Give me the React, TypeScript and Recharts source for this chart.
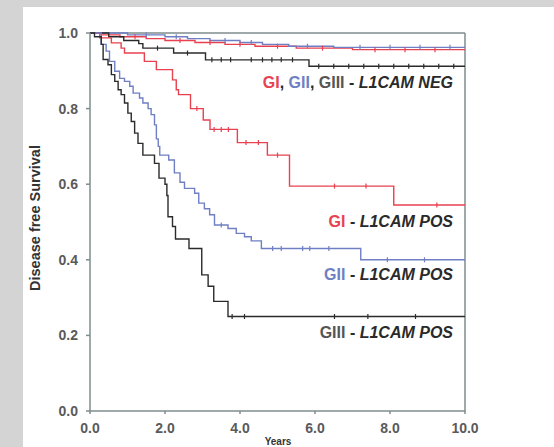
import React from "react";
import {
  ComposedChart,
  Line,
  Scatter,
  XAxis,
  YAxis,
  ReferenceLine,
} from "recharts";

// ---- Data (years, disease free survival) ----
const giPosT = [0, 0.26, 0.57, 0.83, 0.92, 1.45, 1.77, 2.2, 2.3, 2.36, 2.68, 3.02, 3.2, 3.93, 4.73, 5.32, 8.1, 10];
const giPosS = [1.0, 0.987, 0.974, 0.96, 0.947, 0.925, 0.903, 0.876, 0.85, 0.837, 0.8, 0.77, 0.745, 0.71, 0.677, 0.595, 0.545, 0.545];
const giPosCensT = [2.85, 3.31, 3.5, 3.69, 4.16, 4.49, 5.0, 6.52, 7.36, 9.25];

const giiPosT = [0, 0.3, 0.43, 0.52, 0.66, 0.79, 0.92, 1.06, 1.15, 1.32, 1.41, 1.55, 1.63, 1.72, 1.77, 1.82, 1.86, 2.1, 2.25, 2.4, 2.52, 2.79, 2.9, 3.05, 3.19, 3.32, 3.68, 3.9, 4.12, 4.3, 4.57, 7.22, 10];
const giiPosS = [1.0, 0.97, 0.952, 0.925, 0.899, 0.88, 0.872, 0.859, 0.841, 0.828, 0.815, 0.8, 0.784, 0.757, 0.72, 0.7, 0.677, 0.664, 0.63, 0.605, 0.589, 0.576, 0.55, 0.535, 0.519, 0.492, 0.483, 0.47, 0.461, 0.45, 0.43, 0.4, 0.4];
const giiPosCensT = [3.5, 4.87, 5.1, 5.67, 5.86, 6.37, 7.93, 8.92];

const giiiPosT = [0, 0.12, 0.3, 0.35, 0.48, 0.57, 0.66, 0.75, 0.83, 0.92, 1.01, 1.1, 1.19, 1.28, 1.41, 1.72, 1.84, 2.0, 2.05, 2.08, 2.2, 2.28, 2.64, 2.98, 3.15, 3.3, 3.68, 10];
const giiiPosS = [1.0, 0.99, 0.97, 0.93, 0.916, 0.89, 0.872, 0.85, 0.837, 0.815, 0.788, 0.766, 0.735, 0.708, 0.677, 0.655, 0.616, 0.6, 0.57, 0.514, 0.488, 0.455, 0.43, 0.36, 0.33, 0.29, 0.25, 0.25];
const giiiPosCensT = [3.79, 4.12, 6.52, 7.41, 8.68];

const giNegT = [0, 0.3, 0.8, 1.5, 2.0, 2.8, 3.6, 4.4, 5.5, 7.0, 10];
const giNegS = [1.0, 0.995, 0.99, 0.985, 0.98, 0.975, 0.97, 0.965, 0.96, 0.956, 0.956];
const giNegCensT = [1.2, 2.4, 3.2, 4.0, 5.0, 6.2, 7.6, 8.4, 9.2];

const giiNegT = [0, 1.0, 2.0, 2.6, 3.2, 4.0, 4.6, 5.3, 6.5, 10];
const giiNegS = [1.0, 0.995, 0.99, 0.985, 0.98, 0.975, 0.97, 0.965, 0.962, 0.962];
const giiNegCensT = [1.5, 2.3, 3.6, 4.3, 5.8, 7.2, 8.0, 8.8, 9.6];

const giiiNegT = [0, 0.5, 0.9, 1.3, 1.41, 2.23, 3.08, 5.84, 10];
const giiiNegS = [1.0, 0.99, 0.98, 0.972, 0.96, 0.947, 0.929, 0.912, 0.912];
const giiiNegCensT = [1.8, 2.6, 3.25, 3.5, 3.75, 4.3, 4.6, 4.85, 5.1, 5.4, 6.1, 6.5, 6.9, 7.3, 7.7, 8.1, 8.5, 8.9, 9.3, 9.7];

const xTicks = [0, 2, 4, 6, 8, 10];
const yTicks = [0, 0.2, 0.4, 0.6, 0.8, 1.0];

const RED = "#e8414f";
const BLUE = "#6f7fc4";
const BLACK = "#2b2b2b";
const AXIS = "#7f8d8d";
const FONT = "'Liberation Sans', Arial, sans-serif";

const toCurve = (ts: number[], ss: number[]) => ts.map((t, i) => ({ t, s: ss[i] }));
const survAt = (ts: number[], ss: number[], x: number) => {
  let v = ss[0];
  for (let i = 0; i < ts.length; i++) if (ts[i] <= x) v = ss[i];
  return v;
};
const toCens = (ts: number[], ss: number[], cs: number[]) =>
  cs.map((t) => ({ t, s: survAt(ts, ss, t) }));

const series = [
  { key: "giNeg", color: RED, t: giNegT, s: giNegS, c: giNegCensT },
  { key: "giiNeg", color: BLUE, t: giiNegT, s: giiNegS, c: giiNegCensT },
  { key: "giiiNeg", color: BLACK, t: giiiNegT, s: giiiNegS, c: giiiNegCensT },
  { key: "giPos", color: RED, t: giPosT, s: giPosS, c: giPosCensT },
  { key: "giiPos", color: BLUE, t: giiPosT, s: giiPosS, c: giiPosCensT },
  { key: "giiiPos", color: BLACK, t: giiiPosT, s: giiiPosS, c: giiiPosCensT },
];

const makeTick = (color: string) => (props: any) => {
  const { cx, cy } = props;
  if (cx == null || cy == null) return <g />;
  return <line x1={cx} x2={cx} y1={cy - 2.5} y2={cy + 2.5} stroke={color} strokeWidth={1.2} />;
};

const labelBase: React.CSSProperties = {
  position: "absolute",
  right: 554 - 453,
  fontFamily: FONT,
  fontSize: 16,
  fontWeight: "bold",
  whiteSpace: "nowrap",
  lineHeight: "18px",
  color: "#2a2a2a",
};
const tail = (txt: string) => (
  <span>
    {" - "}
    <i>{txt}</i>
  </span>
);

export default function App() {
  return (
    <div
      style={{
        position: "fixed",
        left: 0,
        top: 0,
        width: 554,
        height: 447,
        overflow: "hidden",
        background: "#d4d4d4",
      }}
    >
      <div style={{ position: "absolute", left: 23, top: 7, width: 531, height: 440, background: "#ffffff" }} />
      <div style={{ position: "absolute", left: 0, top: 0 }}>
        <ComposedChart
          width={554}
          height={447}
          margin={{ top: 33, right: 89, bottom: 0, left: 0 }}
        >
          <XAxis
            dataKey="t"
            type="number"
            domain={[0, 10]}
            ticks={xTicks}
            allowDuplicatedCategory={false}
            tickFormatter={(v: number) => v.toFixed(1)}
            height={36}
            stroke={AXIS}
            strokeWidth={1.5}
            tickSize={3}
            tickMargin={9}
            tick={{ fill: "#5a5a5a", fontSize: 14, fontFamily: FONT, fontWeight: "bold" }}
          />
          <YAxis
            type="number"
            domain={[0, 1]}
            ticks={yTicks}
            tickFormatter={(v: number) => v.toFixed(1)}
            width={90}
            stroke={AXIS}
            strokeWidth={1.5}
            tickSize={4}
            tickMargin={8}
            tick={{ fill: "#5a5a5a", fontSize: 14, fontFamily: FONT, fontWeight: "bold" }}
          />
          <ReferenceLine y={1} stroke={AXIS} strokeWidth={1.5} />
          <ReferenceLine x={10} stroke={AXIS} strokeWidth={1.5} />
          {series.map((sr) => (
            <Line
              key={sr.key}
              data={toCurve(sr.t, sr.s)}
              dataKey="s"
              type="stepAfter"
              stroke={sr.color}
              strokeWidth={1.4}
              dot={false}
              isAnimationActive={false}
            />
          ))}
          {series.map((sr) => (
            <Scatter
              key={sr.key + "c"}
              data={toCens(sr.t, sr.s, sr.c)}
              dataKey="s"
              shape={makeTick(sr.color)}
              isAnimationActive={false}
            />
          ))}
        </ComposedChart>
      </div>
      <div style={{ ...labelBase, top: 74 }}>
        <span style={{ color: RED }}>GI</span>
        <span>, </span>
        <span style={{ color: BLUE }}>GII</span>
        <span>, </span>
        <span style={{ color: "#555" }}>GIII</span>
        {tail("L1CAM NEG")}
      </div>
      <div style={{ ...labelBase, top: 213 }}>
        <span style={{ color: RED }}>GI</span>
        {tail("L1CAM POS")}
      </div>
      <div style={{ ...labelBase, top: 266 }}>
        <span style={{ color: BLUE }}>GII</span>
        {tail("L1CAM POS")}
      </div>
      <div style={{ ...labelBase, top: 324 }}>
        <span style={{ color: "#555" }}>GIII</span>
        {tail("L1CAM POS")}
      </div>
      <div
        style={{
          position: "absolute",
          left: 35,
          top: 218,
          transform: "translate(-50%, -50%) rotate(-90deg)",
          fontFamily: FONT,
          fontSize: 14.5,
          fontWeight: "bold",
          color: "#333",
          whiteSpace: "nowrap",
        }}
      >
        Disease free Survival
      </div>
      <div
        style={{
          position: "absolute",
          left: 278,
          top: 437,
          lineHeight: "10px",
          transform: "translateX(-50%)",
          fontFamily: FONT,
          fontSize: 10,
          fontWeight: "bold",
          color: "#333",
          whiteSpace: "nowrap",
        }}
      >
        Years
      </div>
    </div>
  );
}
